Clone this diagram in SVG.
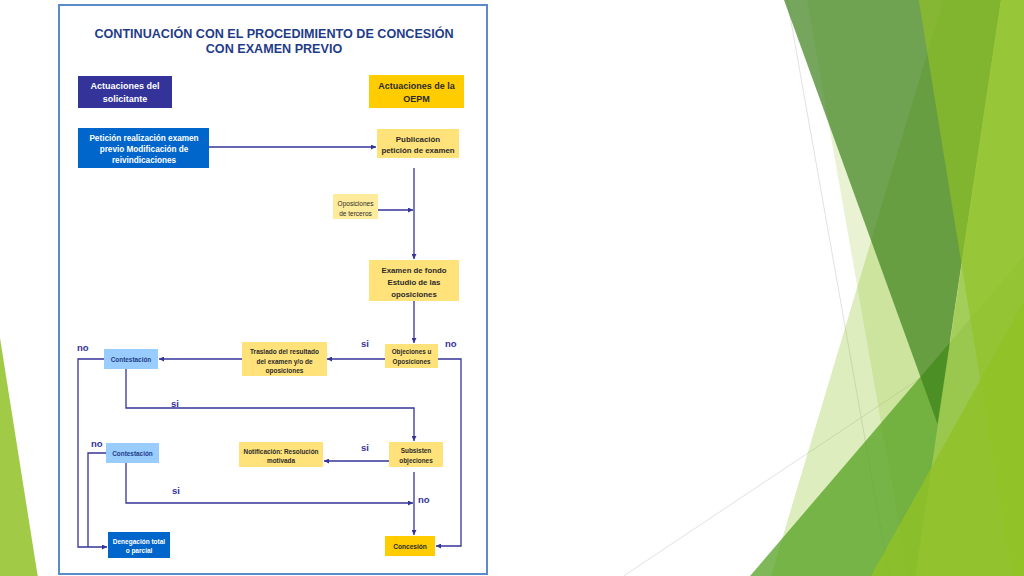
<svg xmlns="http://www.w3.org/2000/svg" width="1024" height="576" viewBox="0 0 1024 576">
<defs>
<marker id="ah" viewBox="0 0 10 10" refX="10" refY="5" markerWidth="5" markerHeight="5" markerUnits="userSpaceOnUse" orient="auto"><path d="M0,0 L10,5 L0,10 Z" fill="#333399"/></marker>
</defs>
<style>
.t{font-family:"Liberation Sans",Arial,sans-serif;font-weight:bold;text-anchor:middle}
.r{font-family:"Liberation Sans",Arial,sans-serif;text-anchor:middle}
.w{fill:#ffffff}
.d{fill:#2b2b2b}
.b{fill:#1f3c88}
.c{fill:none;stroke:#333399;stroke-width:1.3}
.a{marker-end:url(#ah)}
.lbl{font-family:"Liberation Sans",Arial,sans-serif;font-weight:bold;font-size:9.5px;fill:#333399}
.y{fill:#ffe27a}
.gl{stroke:#d9d9d9;stroke-width:0.8}
</style>
<rect width="1024" height="576" fill="#ffffff"/>
<g id="background">
<line class="gl" x1="787.1" y1="-0.8" x2="889.5" y2="577.4"/>
<line class="gl" x1="1023.7" y1="309.2" x2="623.6" y2="576"/>
<polygon points="943,0 1024,0 1024,576 771,576" fill="#90C226" fill-opacity="0.3"/>
<polygon points="807,0 1024,0 1024,576 908,576" fill="#90C226" fill-opacity="0.2"/>
<polygon points="750,576 1024,256 1024,576" fill="#54A021" fill-opacity="0.75"/>
<polygon points="784,0 1001,0 937.5,424" fill="#3c8019" fill-opacity="0.7"/>
<polygon points="1001,0 1024,0 1024,576 915.4,576" fill="#9fcb51" fill-opacity="0.9"/>
<polygon points="918.8,0 1024,0 1024,576 1012,576" fill="#90C226" fill-opacity="0.65"/>
<polygon points="871,576 1024,301.5 1024,576" fill="#90C226" fill-opacity="0.8"/>
<polygon points="0,338 37.7,576 0,576" fill="#90C226" fill-opacity="0.85"/>
</g>
<g id="frame">
<rect x="59" y="5" width="428" height="569" fill="#ffffff" stroke="#5b8bc9" stroke-width="2"/>
<text class="t b" x="274" y="38" font-size="12.6">CONTINUACIÓN CON EL PROCEDIMIENTO DE CONCESIÓN</text>
<text class="t b" x="274" y="52.5" font-size="12.6">CON EXAMEN PREVIO</text>
</g>
<g id="connectors">
<path class="c a" d="M209,147 H376"/>
<path class="c a" d="M414,168 V259"/>
<path class="c a" d="M378,210 H413"/>
<path class="c a" d="M414,301 V343"/>
<path class="c a" d="M385,359 H327"/>
<path class="c a" d="M242,359 H159"/>
<path class="c a" d="M104,359 H78 V547 H107"/>
<path class="c a" d="M126,369 V408 H414 V441"/>
<path class="c a" d="M438,359 H461 V546 H436"/>
<path class="c" d="M106,453 H88 V547"/>
<path class="c a" d="M126,463 V503 H413"/>
<path class="c a" d="M389,461 H324"/>
<path class="c a" d="M414,472 V535"/>
</g>
<g id="labels">
<text class="lbl" x="361" y="347">si</text>
<text class="lbl" x="445" y="347">no</text>
<text class="lbl" x="77" y="351">no</text>
<text class="lbl" x="171" y="407">si</text>
<text class="lbl" x="91" y="447">no</text>
<text class="lbl" x="361" y="451">si</text>
<text class="lbl" x="172" y="493.5">si</text>
<text class="lbl" x="418" y="502.5">no</text>
</g>
<g id="solicitante">
<rect x="78" y="76" width="94" height="32" fill="#333399"/>
<text class="t w" x="125" y="89" font-size="9">Actuaciones del</text>
<text class="t w" x="125" y="102" font-size="9">solicitante</text>
</g>
<g id="oepm">
<rect x="369" y="75" width="95" height="33" fill="#ffcc00"/>
<text class="t d" x="416.5" y="89" font-size="9">Actuaciones de la</text>
<text class="t d" x="416.5" y="102" font-size="9">OEPM</text>
</g>
<g id="peticion">
<rect x="78" y="128" width="131" height="40" fill="#0066cc"/>
<text class="t w" x="144" y="141" font-size="8.2">Petición realización examen</text>
<text class="t w" x="144" y="152" font-size="8.2">previo Modificación de</text>
<text class="t w" x="144" y="163" font-size="8.2">reivindicaciones</text>
</g>
<g id="publicacion">
<rect x="377" y="129" width="82" height="29" class="y"/>
<text class="t d" x="418" y="142" font-size="7.9">Publicación</text>
<text class="t d" x="418" y="153" font-size="7.9">petición de examen</text>
</g>
<g id="oposiciones-terceros">
<rect x="333" y="194" width="45" height="25" fill="#ffeb9c"/>
<text class="r d" x="355.5" y="205.5" font-size="6.5">Oposiciones</text>
<text class="r d" x="355.5" y="215.5" font-size="6.5">de terceros</text>
</g>
<g id="examen-fondo">
<rect x="369" y="260" width="90" height="41" class="y"/>
<text class="t d" x="414" y="272.5" font-size="7.8">Examen de fondo</text>
<text class="t d" x="414" y="284.5" font-size="7.8">Estudio de las</text>
<text class="t d" x="414" y="296.5" font-size="7.8">oposiciones</text>
</g>
<g id="objeciones">
<rect x="385" y="344" width="53" height="24" class="y"/>
<text class="t d" x="411.5" y="354" font-size="6.3">Objeciones u</text>
<text class="t d" x="411.5" y="364" font-size="6.3">Oposiciones</text>
</g>
<g id="traslado">
<rect x="242" y="342" width="85" height="34" class="y"/>
<text class="t d" x="284.5" y="354" font-size="6.5">Traslado del resultado</text>
<text class="t d" x="284.5" y="363.5" font-size="6.5">del examen y/o de</text>
<text class="t d" x="284.5" y="372.5" font-size="6.5">oposiciones</text>
</g>
<g id="contestacion-1">
<rect x="104" y="349" width="54" height="20" fill="#99ccff"/>
<text class="t b" x="131" y="361.5" font-size="6.4">Contestación</text>
</g>
<g id="subsisten">
<rect x="389" y="442" width="54" height="25" class="y"/>
<text class="t d" x="416" y="453" font-size="6.4">Subsisten</text>
<text class="t d" x="416" y="462.5" font-size="6.4">objeciones</text>
</g>
<g id="notificacion">
<rect x="239" y="442" width="84" height="25" class="y"/>
<text class="t d" x="281" y="453.5" font-size="6.4">Notificación: Resolución</text>
<text class="t d" x="281" y="462.5" font-size="6.4">motivada</text>
</g>
<g id="contestacion-2">
<rect x="106" y="443" width="53" height="20" fill="#99ccff"/>
<text class="t b" x="132.5" y="455.5" font-size="6.4">Contestación</text>
</g>
<g id="denegacion">
<rect x="108" y="532" width="62" height="26" fill="#0066cc"/>
<text class="t w" x="139" y="543.5" font-size="6.5">Denegación total</text>
<text class="t w" x="139" y="552.5" font-size="6.5">o parcial</text>
</g>
<g id="concesion">
<rect x="385" y="536" width="50" height="20" fill="#ffcc00"/>
<text class="t d" x="410" y="548.5" font-size="6.6">Concesión</text>
</g>
</svg>
